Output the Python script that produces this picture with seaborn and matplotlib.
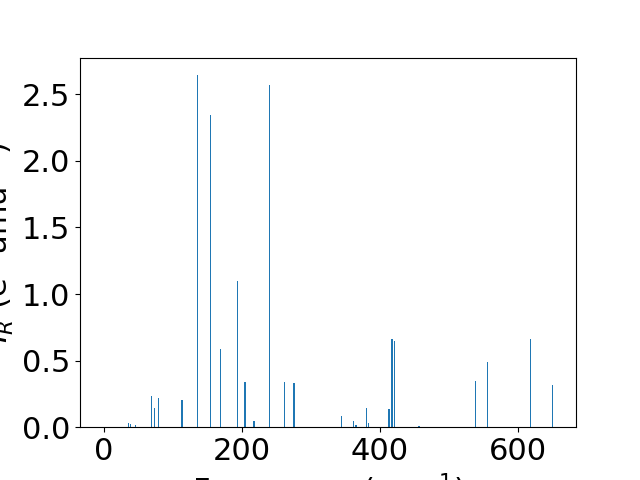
import numpy as np
import pandas as pd
import matplotlib
matplotlib.use("Agg")
import matplotlib.pyplot as plt
import seaborn as sns

freq = [35.7, 38.0, 45.4, 69.0, 73.4, 78.7, 113.0, 135.3, 154.0, 168.6, 193.2,
        204.0, 217.4, 239.6, 261.8, 275.4, 344.4, 361.8, 365.2, 380.2, 383.1,
        413.0, 417.0, 421.3, 456.5, 538.6, 555.6, 618.0, 650.0]
intensity = [0.035, 0.023, 0.020, 0.235, 0.143, 0.218, 0.203, 2.643, 2.342, 0.585, 1.100,
             0.340, 0.045, 2.567, 0.340, 0.330, 0.083, 0.045, 0.015, 0.143, 0.030,
             0.135, 0.660, 0.645, 0.008, 0.345, 0.488, 0.660, 0.315]

df = pd.DataFrame({"freq": freq, "intensity": intensity})

fig, ax = plt.subplots(figsize=(6.4, 4.8), dpi=100)
bar_w = 2.0
min_gap = np.min(np.diff(np.sort(np.unique(freq))))
sns.barplot(data=df, x="freq", y="intensity", native_scale=True,
            width=bar_w / min_gap, color="#1f77b4", saturation=1,
            errorbar=None, ax=ax)
ax.set_xlim(-35, 684)
ax.set_ylim(0, max(intensity) * 1.05)
ax.set_xticks([0, 200, 400, 600])
ax.set_yticks([0.0, 0.5, 1.0, 1.5, 2.0, 2.5])
ax.set_yticklabels(["0.0", "0.5", "1.0", "1.5", "2.0", "2.5"])
ax.tick_params(labelsize=22)
ax.set_xlabel(r"Frequency (cm$^{-1}$)", fontsize=22)
ax.set_ylabel(r"$I_R$ (e$^2$ amu$^{-1}$)", fontsize=22)
fig.subplots_adjust(left=0.125, right=0.9, bottom=0.11, top=0.88)
fig.savefig("out.png", dpi=100)
